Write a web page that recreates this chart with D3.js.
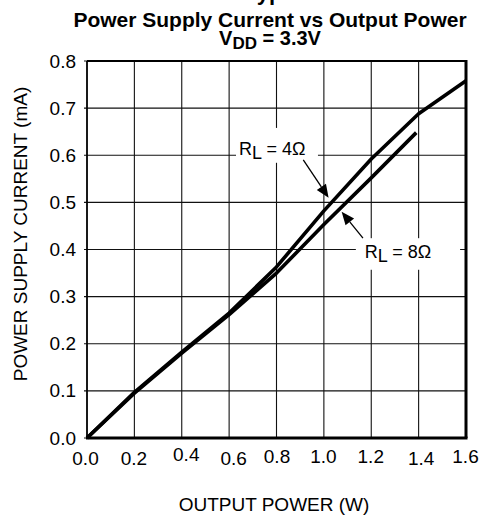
<!DOCTYPE html>
<html><head><meta charset="utf-8">
<script src="https://cdn.jsdelivr.net/npm/d3@7"></script>
<style>
body{margin:0;background:#fff}
svg{display:block}
text{font-family:"Liberation Sans",Arial,Helvetica,sans-serif;fill:#000}
</style>
</head><body>
<svg id="c" width="479" height="519"></svg>
<script>
// ---- data ----
const xTicks = [0, 0.2, 0.4, 0.6, 0.8, 1.0, 1.2, 1.4, 1.6];
const xTickLabels = ["0.0","0.2","0.4","0.6","0.8","1.0","1.2","1.4","1.6"];
const yTicks = [0, 0.1, 0.2, 0.3, 0.4, 0.5, 0.6, 0.7, 0.8];
const yTickLabels = ["0.0","0.1","0.2","0.3","0.4","0.5","0.6","0.7","0.8"];
const power4 = [0, 0.2, 0.4, 0.6, 0.8, 1.0, 1.2, 1.4, 1.6];
const current4 = [0, 0.097, 0.182, 0.265, 0.363, 0.482, 0.592, 0.688, 0.758];
const power8 = [0, 0.2, 0.4, 0.6, 0.8, 1.0, 1.2, 1.39];
const current8 = [0, 0.095, 0.18, 0.262, 0.35, 0.453, 0.552, 0.648];
const loadLabels = ["4Ω", "8Ω"];
const titleTop = "Typical Characteristics";
const title1 = "Power Supply Current vs Output Power";
const xLabel = "OUTPUT POWER (W)";
const yLabel = "POWER SUPPLY CURRENT (mA)";

// small per-label nudges of the x tick labels (as in the reference scan)
const xTickNudge = [[-2,0],[-1,0],[4,-4],[4,0],[0,-2],[-1,-2],[-1,-2],[2,0],[-1,-2]];

// ---- layout ----
const L = 87, R = 466, T = 61, B = 438;
const svg = d3.select("#c");
const x = d3.scaleLinear().domain([0, 1.6]).range([L, R]);
const y = d3.scaleLinear().domain([0, 0.8]).range([B, T]);

// grid
const grid = svg.append("g");
grid.selectAll("line.v").data(xTicks).join("line")
  .attr("x1", d => x(d)).attr("x2", d => x(d)).attr("y1", T).attr("y2", B)
  .attr("stroke", "#111").attr("stroke-width", 1.1);
grid.selectAll("line.h").data(yTicks).join("line")
  .attr("x1", L - 3).attr("x2", R).attr("y1", d => y(d)).attr("y2", d => y(d))
  .attr("stroke", "#111").attr("stroke-width", 1.1);

// frame
svg.append("line").attr("x1", L).attr("x2", R).attr("y1", T).attr("y2", T).attr("stroke", "#000").attr("stroke-width", 2);
svg.append("line").attr("x1", L).attr("x2", L).attr("y1", T).attr("y2", B).attr("stroke", "#000").attr("stroke-width", 1.6);
svg.append("line").attr("x1", L - 1).attr("x2", R + 1.5).attr("y1", B).attr("y2", B).attr("stroke", "#000").attr("stroke-width", 3);
svg.append("line").attr("x1", R).attr("x2", R).attr("y1", T - 1).attr("y2", B).attr("stroke", "#000").attr("stroke-width", 3);

// y tick labels
const yAxis = d3.axisLeft(y).tickValues(yTicks).tickFormat((d, i) => yTickLabels[i]).tickSize(0).tickPadding(11);
const ya = svg.append("g").attr("transform", `translate(${L},0)`).call(yAxis);
ya.select(".domain").remove();
ya.selectAll("text").attr("font-size", 19).attr("fill", "#000").style("font-family", '"Liberation Sans",Arial,sans-serif');

// x tick labels
const xAxis = d3.axisBottom(x).tickValues(xTicks).tickFormat((d, i) => xTickLabels[i]).tickSize(0).tickPadding(0);
const xa = svg.append("g").attr("transform", `translate(0,${B})`).call(xAxis);
xa.select(".domain").remove();
xa.selectAll("text").attr("font-size", 19).attr("fill", "#000").attr("dy", null).attr("y", 0)
  .style("font-family", '"Liberation Sans",Arial,sans-serif')
  .attr("transform", (d, i) => `translate(${xTickNudge[i][0]},${27 + xTickNudge[i][1]})`);

// curves
const line = d3.line().x(d => x(d[0])).y(d => y(d[1]));
const s4 = power4.map((p, i) => [p, current4[i]]);
const s8 = power8.map((p, i) => [p, current8[i]]);
[s8, s4].forEach(s => {
  svg.append("path").datum(s).attr("d", line)
    .attr("fill", "none").attr("stroke", "#000").attr("stroke-width", 3.6)
    .attr("stroke-linejoin", "round");
});

// annotation boxes (white, breaking the grid)
function box(x0, x1, y0, y1) {
  svg.append("rect").attr("x", x(x0)).attr("y", y(y0)).attr("width", x(x1) - x(x0)).attr("height", y(y1) - y(y0)).attr("fill", "#fff");
}
box(0.629, 0.975, 0.658, 0.584);
box(1.135, 1.575, 0.424, 0.357);

function rlLabel(px, py, txt) {
  const t = svg.append("text").attr("x", x(px)).attr("y", y(py)).attr("font-size", 18);
  t.append("tspan").text("R");
  t.append("tspan").attr("dy", 4).text("L");
  t.append("tspan").attr("dy", -4).text(" = " + txt);
}
rlLabel(0.642, 0.6005, loadLabels[0]);
rlLabel(1.173, 0.381, loadLabels[1]);

function arrow(fx, fy, tx, ty) {
  const x1 = x(fx), y1 = y(fy), x2 = x(tx), y2 = y(ty);
  const a = Math.atan2(y2 - y1, x2 - x1);
  const hl = 13, hw = 5.5;
  const bx = x2 - hl * Math.cos(a), by = y2 - hl * Math.sin(a);
  svg.append("line").attr("x1", x1).attr("y1", y1).attr("x2", bx).attr("y2", by)
    .attr("stroke", "#000").attr("stroke-width", 1.3);
  const p = [[x2, y2],
    [bx + hw * Math.sin(a), by - hw * Math.cos(a)],
    [bx - hw * Math.sin(a), by + hw * Math.cos(a)]];
  svg.append("path").attr("d", "M" + p.map(q => q.join(",")).join("L") + "Z").attr("fill", "#000");
}
arrow(0.913, 0.59, 1.02, 0.51);
arrow(1.165, 0.424, 1.075, 0.48);

// titles
svg.append("text").attr("x", 245).attr("y", 0).attr("font-size", 22).attr("font-weight", "bold").text(titleTop);
svg.append("text").attr("x", 270).attr("y", 27).attr("text-anchor", "middle").attr("font-size", 21).attr("font-weight", "bold").text(title1);
const t2 = svg.append("text").attr("x", 270).attr("y", 45).attr("text-anchor", "middle").attr("font-size", 20).attr("font-weight", "bold");
t2.append("tspan").text("V");
t2.append("tspan").attr("dy", 4).attr("font-size", 17).text("DD");
t2.append("tspan").attr("dy", -4).text(" = 3.3V");

// axis titles
svg.append("text").attr("x", 274).attr("y", 511).attr("text-anchor", "middle").attr("font-size", 19).text(xLabel);
svg.append("text").attr("transform", "translate(27,234) rotate(-90)").attr("text-anchor", "middle").attr("font-size", 19).text(yLabel);
</script>
</body></html>
